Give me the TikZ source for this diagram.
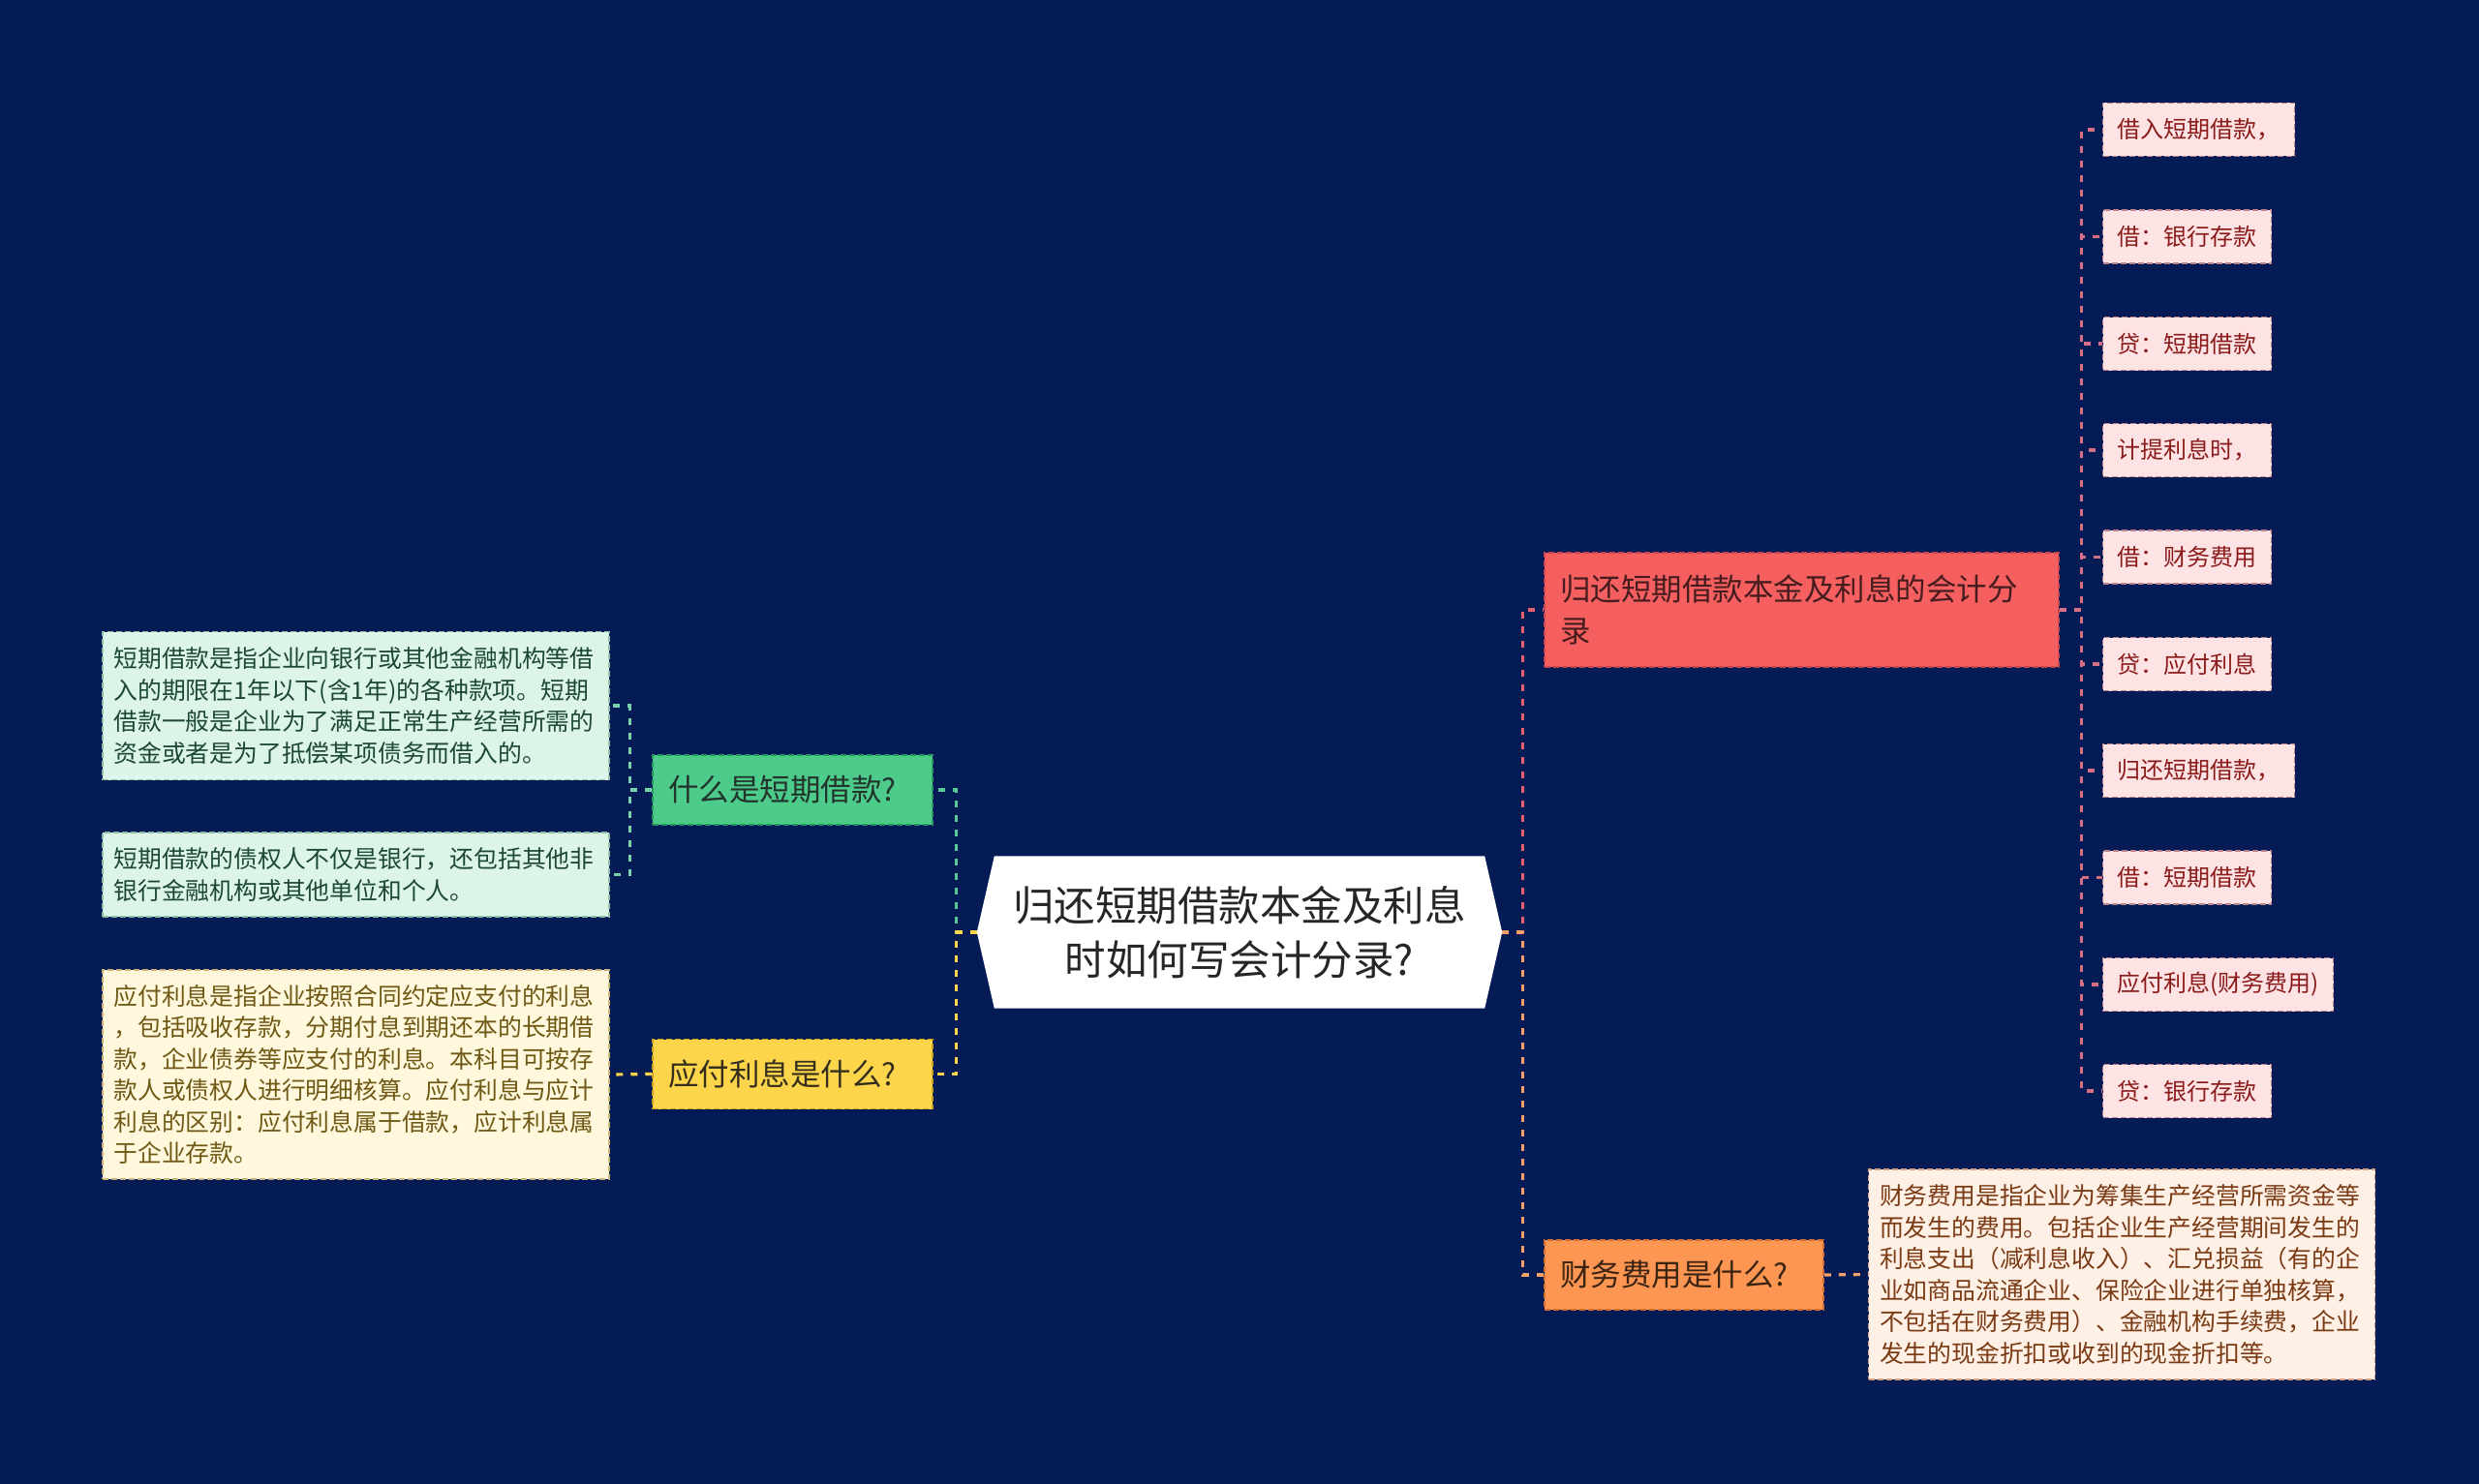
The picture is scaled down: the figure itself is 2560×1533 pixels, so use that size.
\documentclass[tikz,border=0pt]{standalone}
\usepackage{fontspec}
\setmainfont{Noto Sans CJK SC}
\usetikzlibrary{backgrounds}

\begin{document}
\begin{tikzpicture}[x=1pt, y=-1pt,
    % Colors
    cnavy/.style={fill={rgb,255:red,4;green,27;blue,86}},
    cgreen/.style={fill={rgb,255:red,76;green,203;blue,138}, draw={rgb,255:red,40;green,150;blue,95}, text={rgb,255:red,34;green,52;blue,44}},
    cyellow/.style={fill={rgb,255:red,253;green,213;blue,74}, draw={rgb,255:red,200;green,160;blue,30}, text={rgb,255:red,52;green,46;blue,30}},
    cred/.style={fill={rgb,255:red,245;green,95;blue,95}, draw={rgb,255:red,200;green,70;blue,80}, text={rgb,255:red,70;green,28;blue,30}},
    corange/.style={fill={rgb,255:red,253;green,150;blue,82}, draw={rgb,255:red,210;green,110;blue,50}, text={rgb,255:red,60;green,36;blue,18}},
    % Styles
    topic/.style={dash pattern=on 6pt off 3pt, line width=1.5pt, inner xsep=16pt,
                  minimum height=72pt, text width=257pt, align=left,
                  font=\fontsize{31.5}{42.5}\selectfont},
    note/.style={dash pattern=on 6pt off 3pt, line width=1.2pt, inner xsep=11.5pt,
                 text width=500pt, align=left, font=\fontsize{24.8}{32.5}\selectfont},
    gnote/.style={note, fill={rgb,255:red,221;green,245;blue,232}, draw={rgb,255:red,140;green,190;blue,165},
                  text={rgb,255:red,28;green,72;blue,52}},
    ynote/.style={note, fill={rgb,255:red,255;green,248;blue,220}, draw={rgb,255:red,200;green,180;blue,120},
                  text={rgb,255:red,110;green,88;blue,20}},
    onote/.style={note, fill={rgb,255:red,255;green,240;blue,230}, draw={rgb,255:red,210;green,160;blue,130},
                  text={rgb,255:red,122;green,58;blue,20}},
    leaf/.style={dash pattern=on 6pt off 3pt, line width=1.2pt, inner xsep=15pt, minimum height=55pt,
                 anchor=west, font=\fontsize{24}{30}\selectfont,
                 fill={rgb,255:red,253;green,227;blue,227}, draw={rgb,255:red,190;green,130;blue,140},
                 text={rgb,255:red,139;green,26;blue,26}},
    link/.style={line width=3.2pt, dash pattern=on 7pt off 8pt},
  ]

  \useasboundingbox (0,0) rectangle (2560,1533);

  % Root
  \node[minimum width=542pt, minimum height=157pt, align=center, text={rgb,255:red,38;green,38;blue,38},
        font=\fontsize{42.5}{55.5}\selectfont] (root) at (1280,963) {
    归还短期借款本金及利息\\
    时如何写会计分录?
  };

  \begin{pgfonlayer}{background}
    \fill[cnavy] (0,0) rectangle (2560,1533);
    \fill[white] (root.west) -- ([xshift=18pt]root.north west) -- ([xshift=-18pt]root.north east)
      -- (root.east) -- ([xshift=-18pt]root.south east) -- ([xshift=18pt]root.south west) -- cycle;
  \end{pgfonlayer}

  % Left branches
  \node[topic, cgreen, draw] (what) at (818.5,816) {什么是短期借款?};
  \node[topic, cyellow, draw] (payable) at (818.5,1109.5) {应付利息是什么?};

  \node[gnote, draw, minimum height=153pt] (whatnote1) at (367.5,729) {
    短期借款是指企业向银行或其他金融机构等借\\
    入的期限在1年以下(含1年)的各种款项。短期\\
    借款一般是企业为了满足正常生产经营所需的\\
    资金或者是为了抵偿某项债务而借入的。
  };
  \node[gnote, draw, minimum height=87pt] (whatnote2) at (367.5,903.5) {
    短期借款的债权人不仅是银行，还包括其他非\\
    银行金融机构或其他单位和个人。
  };
  \node[ynote, draw, minimum height=216pt] (payablenote) at (367.5,1110) {
    应付利息是指企业按照合同约定应支付的利息\\
    ，包括吸收存款，分期付息到期还本的长期借\\
    款，企业债券等应支付的利息。本科目可按存\\
    款人或债权人进行明细核算。应付利息与应计\\
    利息的区别：应付利息属于借款，应计利息属\\
    于企业存款。
  };

  % Right branches
  \node[topic, cred, draw, text width=499pt, minimum height=118pt] (entry) at (1860.5,630) {
    归还短期借款本金及利息的会计分\\
    录
  };
  \node[topic, corange, draw, text width=256pt] (expense) at (1739,1317) {财务费用是什么?};

  \node[onote, draw, minimum height=217pt] (expensenote) at (2191,1316.5) {
    财务费用是指企业为筹集生产经营所需资金等\\
    而发生的费用。包括企业生产经营期间发生的\\
    利息支出（减利息收入）、汇兑损益（有的企\\
    业如商品流通企业、保险企业进行单独核算，\\
    不包括在财务费用）、金融机构手续费，企业\\
    发生的现金折扣或收到的现金折扣等。
  };

  % Entry leaves
  \node[leaf] (leaf1) at (2171,134) {借入短期借款，};
  \node[leaf] (leaf2) at (2171,244.5) {借：银行存款};
  \node[leaf] (leaf3) at (2171,355) {贷：短期借款};
  \node[leaf] (leaf4) at (2171,465) {计提利息时，};
  \node[leaf] (leaf5) at (2171,575.5) {借：财务费用};
  \node[leaf] (leaf6) at (2171,686) {贷：应付利息};
  \node[leaf] (leaf7) at (2171,796) {归还短期借款，};
  \node[leaf] (leaf8) at (2171,906.5) {借：短期借款};
  \node[leaf] (leaf9) at (2171,1017) {应付利息(财务费用)};
  \node[leaf] (leaf10) at (2171,1127) {贷：银行存款};

  % Connectors
  \draw[link, draw={rgb,255:red,88;green,200;blue,150}] (root.west) -- ++(-21,0) |- (what.east);
  \draw[link, draw={rgb,255:red,253;green,213;blue,74}] (root.west) -- ++(-21,0) |- (payable.east);
  \draw[link, draw={rgb,255:red,226;green,96;blue,112}] (root.east) -- ++(21,0) |- (entry.west);
  \draw[link, draw={rgb,255:red,244;green,160;blue,106}] (root.east) -- ++(21,0) |- (expense.west);

  \draw[link, draw={rgb,255:red,120;green,210;blue,172}] (what.west) -- ++(-23,0) |- (whatnote1.east);
  \draw[link, draw={rgb,255:red,120;green,210;blue,172}] (what.west) -- ++(-23,0) |- (whatnote2.east);
  \draw[link, draw={rgb,255:red,253;green,213;blue,74}] (payable.west) -- (payablenote.east);
  \draw[link, draw={rgb,255:red,244;green,160;blue,106}] (expense.east) -- (expensenote.west);

  \draw[link, draw={rgb,255:red,216;green,112;blue,133}] (entry.east) -- ++(23,0) |- (leaf1.west);
  \draw[link, draw={rgb,255:red,216;green,112;blue,133}] (entry.east) -- ++(23,0) |- (leaf2.west);
  \draw[link, draw={rgb,255:red,216;green,112;blue,133}] (entry.east) -- ++(23,0) |- (leaf3.west);
  \draw[link, draw={rgb,255:red,216;green,112;blue,133}] (entry.east) -- ++(23,0) |- (leaf4.west);
  \draw[link, draw={rgb,255:red,216;green,112;blue,133}] (entry.east) -- ++(23,0) |- (leaf5.west);
  \draw[link, draw={rgb,255:red,216;green,112;blue,133}] (entry.east) -- ++(23,0) |- (leaf6.west);
  \draw[link, draw={rgb,255:red,216;green,112;blue,133}] (entry.east) -- ++(23,0) |- (leaf7.west);
  \draw[link, draw={rgb,255:red,216;green,112;blue,133}] (entry.east) -- ++(23,0) |- (leaf8.west);
  \draw[link, draw={rgb,255:red,216;green,112;blue,133}] (entry.east) -- ++(23,0) |- (leaf9.west);
  \draw[link, draw={rgb,255:red,216;green,112;blue,133}] (entry.east) -- ++(23,0) |- (leaf10.west);

\end{tikzpicture}
\end{document}
